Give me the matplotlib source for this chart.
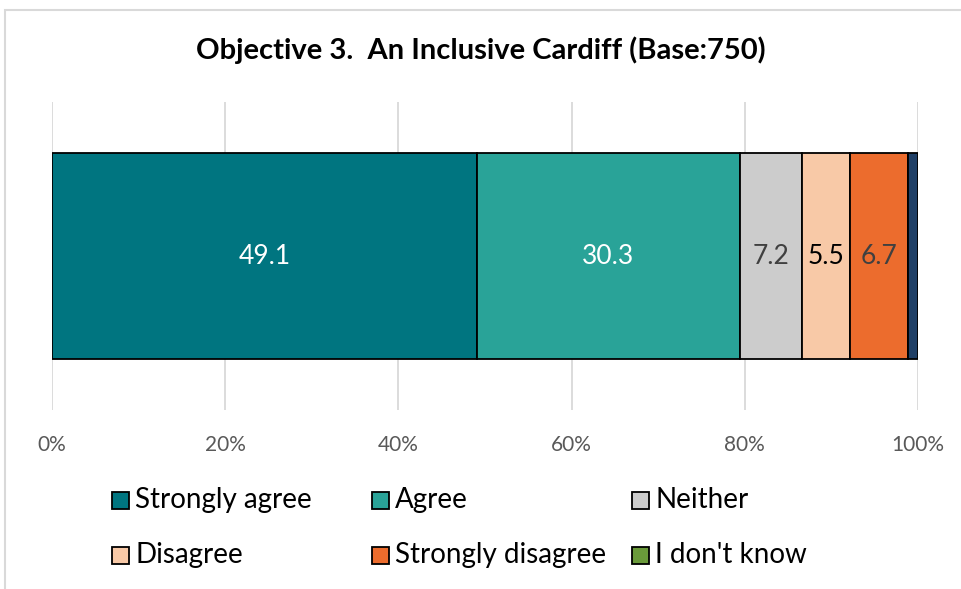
import matplotlib.pyplot as plt
from matplotlib.patches import Rectangle

plt.rcParams['font.family'] = ['Lato', 'DejaVu Sans']

# Datos del gráfico
categorias = ['Strongly agree', 'Agree', 'Neither', 'Disagree', 'Strongly disagree', "I don't know"]
valores = [49.1, 30.3, 7.2, 5.5, 6.7, 0.0]
colores = ['#007580', '#29A398', '#CCCCCC', '#F8C9A7', '#EC6C2D', '#6A9A3A']
color_texto = ['white', 'white', '#404040', 'black', '#404040', 'white']
# Resto sin etiqueta en la leyenda
resto = 1.2
color_resto = '#1F3F66'

W, H = 961, 589
fig = plt.figure(figsize=(W / 100, H / 100), dpi=100)
ax = fig.add_axes([52 / W, 1 - 410 / H, 866 / W, 308 / H])

izq = 0
for cat, v, c, tc in zip(categorias, valores, colores, color_texto):
    ax.barh(0, v, left=izq, height=0.672, color=c, edgecolor='black', linewidth=1.3, label=cat, zorder=3)
    if v > 0:
        ax.text(izq + v / 2, 0, f'{v:.1f}', ha='center', va='center', color=tc, fontsize=19, zorder=4)
    izq += v
ax.barh(0, resto, left=izq, height=0.672, color=color_resto, edgecolor='black', linewidth=1.3, zorder=3)

ax.set_xlim(0, 100)
ax.set_ylim(-0.5, 0.5)
ax.set_xticks([0, 20, 40, 60, 80, 100])
ax.set_xticklabels(['0%', '20%', '40%', '60%', '80%', '100%'], fontsize=15, color='#595959')
ax.set_yticks([])
ax.tick_params(axis='x', length=0, pad=18)
ax.grid(axis='x', color='#D9D9D9', linewidth=1.3, zorder=0)
for s in ax.spines.values():
    s.set_visible(False)

fig.text(0.5, 1 - 50 / H, 'Objective 3.  An Inclusive Cardiff (Base:750)', ha='center', va='center',
         fontsize=21, fontweight='bold')

# Leyenda en filas (3 columnas fijas)
col_x = [112, 372, 632]
fila_y = [500, 555]
caja = 17
for i, (cat, c) in enumerate(zip(categorias, colores)):
    x = col_x[i % 3]
    y = fila_y[i // 3]
    fig.patches.append(Rectangle((x / W, 1 - (y + caja / 2) / H), caja / W, caja / H,
                                 transform=fig.transFigure, facecolor=c, edgecolor='black', linewidth=1.3))
    fig.text((x + caja + 6) / W, 1 - y / H, cat, ha='left', va='center', fontsize=20)

# Borde del área del gráfico
fig.patches.append(Rectangle((5 / W, -0.1), 1.2, 1.1 - 10 / H, transform=fig.transFigure,
                             fill=False, edgecolor='#D9D9D9', linewidth=1.5))

fig.savefig('out.png', dpi=100)
